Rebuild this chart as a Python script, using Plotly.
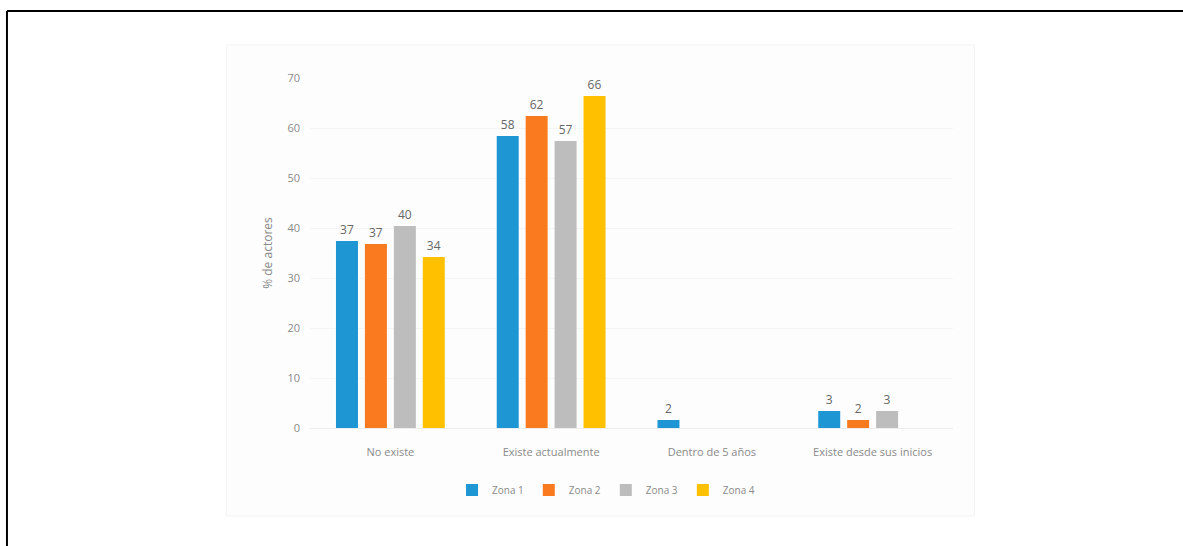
import plotly.graph_objects as go

categories = ["No existe", "Existe actualmente", "Dentro de 5 años", "Existe desde sus inicios"]
series_names = ["Zona 1", "Zona 2", "Zona 3", "Zona 4"]
zona1 = [37.4, 58.4, 1.6, 3.4]
zona2 = [36.8, 62.4, None, 1.6]
zona3 = [40.4, 57.4, None, 3.4]
zona4 = [34.2, 66.4, None, None]
y_ticks = [0, 10, 20, 30, 40, 50, 60, 70]

values = [zona1, zona2, zona3, zona4]
colors = ["#1E96D4", "#FA7A20", "#BDBDBD", "#FFC000"]

W, H = 1183, 546
ML, MR, MT, MB = 309.5, W - 953.5, 78, H - 428
PW, PH = W - ML - MR, H - MT - MB

def px(x):
    return (x - ML) / PW

def py(y):
    return (H - MB - y) / PH

fig = go.Figure()
for name, vals, col in zip(series_names, values, colors):
    fig.add_trace(go.Bar(
        name=name, x=categories, y=vals, marker_color=col,
        marker_line_width=0,
        texttemplate="%{y:.0f}", textposition="outside",
        textfont=dict(color="#666666", size=12, family="Open Sans"),
        cliponaxis=False,
    ))

shapes = [
    # faint embedded-image box
    dict(type="rect", xref="paper", yref="paper", x0=px(226), x1=px(975), y0=py(516), y1=py(45),
         fillcolor="#fdfdfd", line=dict(color="#f3f3f3", width=1), layer="below"),
    # page frame
    dict(type="line", xref="paper", yref="paper", x0=px(6), x1=px(1190), y0=py(11), y1=py(11),
         line=dict(color="black", width=2)),
    dict(type="line", xref="paper", yref="paper", x0=px(6), x1=px(6), y0=py(11), y1=py(560),
         line=dict(color="black", width=2)),
]

fig.update_layout(
    width=W, height=H,
    margin=dict(l=ML, r=MR, t=MT, b=MB, pad=0),
    paper_bgcolor="white", plot_bgcolor="rgba(0,0,0,0)",
    barmode="group", bargap=0.28, bargroupgap=0.24,
    font=dict(family="Open Sans", color="#8a8a8a", size=11),
    showlegend=True,
    legend=dict(orientation="h", x=px(606), xanchor="center", y=py(490), yanchor="middle",
                font=dict(size=10, color="#8a8a8a"), itemwidth=30, tracegroupgap=0,
                bgcolor="rgba(0,0,0,0)"),
    shapes=shapes,
    yaxis=dict(range=[0, 70], tickvals=y_ticks, showgrid=True, gridcolor="#f5f5f5",
               zeroline=False, showline=False, ticks="", ticklabelstandoff=9,
               title=dict(text="% de actores", font=dict(size=12, color="#8a8a8a"), standoff=12)),
    xaxis=dict(showline=True, linecolor="#ededed", ticks="", ticklabelstandoff=14,
               tickfont=dict(size=11, color="#8a8a8a")),
)

fig.write_html("out.html")
